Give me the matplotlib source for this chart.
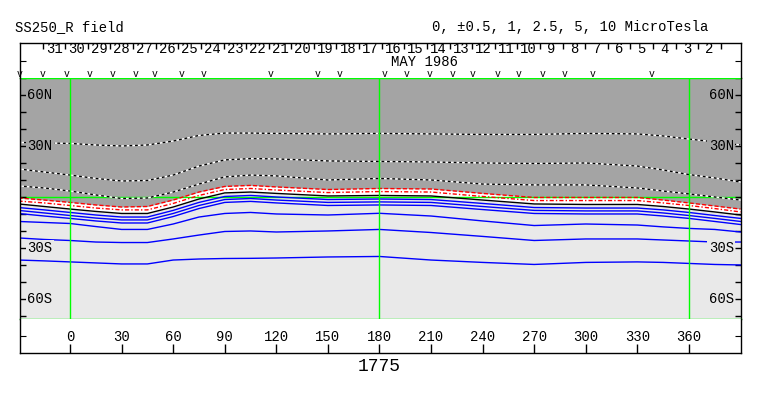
import matplotlib
matplotlib.use('Agg')
import matplotlib.pyplot as plt

plt.rcParams['font.family'] = ['Liberation Mono', 'DejaVu Sans Mono']

# longitude samples (Carrington deg) for the contour lines
lon = [-30, -15, 0, 15, 30, 45, 60, 75, 90, 105, 120, 150, 180, 210, 240, 270, 300, 330, 345, 360, 375, 390]

# negative field contours (north side), dotted black/white
lat_a = [32.1, 31.8, 31.5, 30.6, 30.0, 30.6, 32.9, 36.2, 37.6, 37.6, 37.4, 37.1, 37.4, 37.1, 36.8, 36.8, 37.4, 37.1, 35.9, 34.1, 32.4, 30.6]
lat_b = [16.5, 14.7, 12.9, 10.9, 9.4, 9.7, 12.9, 18.2, 21.8, 22.6, 22.4, 21.2, 20.9, 20.6, 20.0, 19.7, 20.0, 18.2, 15.9, 13.2, 11.2, 8.8]
lat_c = [6.5, 5.3, 3.5, 1.2, -0.9, -0.6, 2.9, 7.6, 11.8, 12.9, 12.4, 10.0, 10.9, 10.0, 7.6, 7.1, 7.1, 5.3, 3.5, 1.8, 0.0, -1.8]
# weak contours, red dashed
lat_r1 = [-0.6, -1.8, -3.2, -4.7, -5.9, -5.6, -1.8, 2.9, 6.2, 6.8, 5.9, 4.4, 5.0, 4.7, 2.1, -0.3, -0.3, -0.3, -1.8, -3.5, -5.3, -7.1]
lat_r2 = [-2.4, -3.5, -5.0, -6.5, -7.6, -7.6, -3.8, 0.9, 4.4, 5.0, 4.1, 2.6, 3.2, 2.9, 0.3, -2.1, -2.1, -2.1, -3.5, -5.0, -6.8, -8.8]
# neutral line
lat_0 = [-4.1, -5.6, -7.1, -8.5, -9.7, -9.7, -5.9, -1.2, 2.4, 2.9, 2.1, 0.6, 0.9, 0.6, -1.8, -4.1, -4.4, -4.4, -5.6, -7.1, -8.8, -10.6]
# positive field contours (south side), blue
lat_p1 = [-6.2, -7.6, -9.1, -10.6, -11.8, -11.8, -7.9, -3.2, 0.3, 0.9, 0.0, -1.5, -1.2, -1.5, -3.8, -6.2, -6.5, -6.5, -7.6, -9.1, -10.9, -12.6]
lat_p2 = [-7.9, -9.4, -10.9, -12.4, -13.5, -13.5, -9.7, -5.0, -1.5, -0.9, -1.8, -3.2, -2.9, -3.2, -5.6, -7.9, -8.2, -8.2, -9.4, -10.9, -12.6, -14.4]
lat_p3 = [-9.7, -11.2, -12.6, -14.1, -15.3, -15.3, -11.5, -6.8, -3.2, -2.6, -3.5, -5.0, -4.7, -5.0, -7.4, -9.7, -10.0, -10.0, -11.2, -12.6, -14.4, -16.2]
lat_p4 = [-14.4, -15.0, -15.6, -17.4, -19.1, -19.1, -15.9, -11.8, -9.7, -9.1, -10.0, -10.6, -9.6, -11.2, -14.1, -16.8, -15.9, -16.5, -17.6, -18.5, -19.1, -20.6]
lat_p5 = [-24.1, -25.0, -25.6, -26.5, -26.8, -26.8, -24.7, -22.4, -20.3, -20.0, -20.6, -20.0, -19.1, -20.9, -23.2, -25.6, -24.7, -24.7, -25.3, -25.9, -26.5, -26.5]
lat_p6 = [-37.1, -37.6, -38.2, -38.8, -39.4, -39.4, -37.1, -36.5, -36.2, -36.1, -35.9, -35.3, -35.0, -37.1, -38.5, -39.7, -38.5, -38.2, -38.5, -39.1, -39.7, -40.0]

# calendar along the top (day boundaries in Carrington longitude)
day_names = ['31', '30', '29', '28', '27', '26', '25', '24', '23', '22', '21', '20', '19', '18', '17',
             '16', '15', '14', '13', '12', '11', '10', '9', '8', '7', '6', '5', '4', '3', '2']
day_lon = [-15.9, -2.8, 10.4, 23.5, 36.7, 49.8, 63.0, 76.1, 89.3, 102.4, 115.6, 128.7, 141.9, 155.0, 168.2,
           181.3, 194.5, 207.6, 220.8, 233.9, 247.1, 260.2, 273.4, 286.5, 299.7, 312.8, 326.0, 339.1, 352.3, 365.4, 378.6]
# observation markers
obs_lon = [-29.1, -15.7, -1.7, 11.6, 25.0, 38.4, 49.4, 65.1, 77.9, 116.9, 144.2, 157.0, 183.2, 196.0,
           209.4, 222.8, 234.4, 248.9, 261.1, 275.1, 287.9, 304.2, 338.5]

lon_ticks = [0, 30, 60, 90, 120, 150, 180, 210, 240, 270, 300, 330, 360]
lat_ticks = [-70, -60, -50, -40, -30, -20, -10, 0, 10, 20, 30, 40, 50, 60, 70]
lat_names = {60: '60N', 30: '30N', -30: '30S', -60: '60S'}

dark = '#a4a4a4'
light = '#e9e9e9'
green = '#00ff00'

W, H = 763, 396
fig = plt.figure(figsize=(W / 100, H / 100), dpi=100)
ax = fig.add_axes([20 / W, (H - 318.5) / H, 721 / W, 241 / H])
ax_top = fig.add_axes([20 / W, (H - 77.5) / H, 721 / W, 34.5 / H])
ax_bot = fig.add_axes([20 / W, (H - 353) / H, 721 / W, 34.5 / H])

xlim = (-29.1, 390.3)

# main map
ax.set_xlim(xlim)
ax.set_ylim(-71.5, 70.3)
ax.set_facecolor(light)
ax.fill_between(lon, lat_r1, 80, color=dark, lw=0, zorder=0)
ax.fill_between(lon, lat_0, lat_r1, color='white', lw=0, zorder=0)

for la in [lat_a, lat_b, lat_c]:
    ax.plot(lon, la, color='white', lw=1, zorder=2)
    ax.plot(lon, la, color='black', lw=1, dashes=(2, 2), zorder=2)
ax.plot(lon, lat_r1, color='red', lw=1, dashes=(3, 1.5), zorder=2)
ax.plot(lon, lat_r2, color='red', lw=1, dashes=(3, 1.5, 1, 1.5), zorder=2)
ax.axhline(0, color=green, lw=1, zorder=1.5)
ax.plot(lon, lat_0, color='black', lw=1, zorder=2)
for la in [lat_p1, lat_p2, lat_p3, lat_p4, lat_p5, lat_p6]:
    ax.plot(lon, la, color='blue', lw=1, zorder=2)

for v in [0, 180, 360]:
    ax.axvline(v, color=green, lw=1, zorder=3)

ax.set_xticks([])
ax.set_yticks(lat_ticks)
ax.set_yticklabels([])
ax.tick_params(axis='y', direction='in', length=4.3, width=1, left=True, right=True)
for side in ['top', 'bottom']:
    ax.spines[side].set_color(green)
    ax.spines[side].set_linewidth(1)
for side in ['left', 'right']:
    ax.spines[side].set_linewidth(1)

for la, name in lat_names.items():
    bg = dark if la > 0 else light
    ax.text(-25.0, la, name, ha='left', va='center', fontsize=10, zorder=4,
            bbox=dict(facecolor=bg, edgecolor='none', pad=1))
    ax.text(386.2, la, name, ha='right', va='center', fontsize=10, zorder=4,
            bbox=dict(facecolor=bg, edgecolor='none', pad=1))

# top calendar strip
ax_top.set_xlim(xlim)
ax_top.set_ylim(0, 1)
ax_top.spines['bottom'].set_visible(False)
for side in ['top', 'left', 'right']:
    ax_top.spines[side].set_linewidth(1)
ax_top.set_xticks([])
ax_top.set_yticks([0.47])
ax_top.set_yticklabels([])
ax_top.tick_params(axis='y', direction='in', length=4.3, left=True, right=True)
ax_top.vlines(day_lon, 0.83, 1.0, color='black', lw=1)
for name, d in zip(day_names, day_lon):
    ax_top.text(d + 6.6, 0.83, name, ha='center', va='center', fontsize=10)
ax_top.text(186.5, 0.46, 'MAY 1986', ha='left', va='center', fontsize=10)
for o in obs_lon:
    ax_top.text(o, 0.1, 'v', ha='center', va='center', fontsize=7)

# bottom longitude strip
ax_bot.set_xlim(xlim)
ax_bot.set_ylim(0, 1)
ax_bot.spines['top'].set_visible(False)
for side in ['bottom', 'left', 'right']:
    ax_bot.spines[side].set_linewidth(1)
ax_bot.set_xticks(lon_ticks)
ax_bot.set_xticklabels([])
ax_bot.tick_params(axis='x', direction='in', length=6.5, width=1)
ax_bot.set_yticks([0.5])
ax_bot.set_yticklabels([])
ax_bot.tick_params(axis='y', direction='in', length=4.3, left=True, right=True)
for t in lon_ticks:
    ax_bot.text(t, 0.45, str(t), ha='center', va='center', fontsize=10)
ax_bot.text(180, -0.38, '1775', ha='center', va='center', fontsize=13)

fig.text(15 / W, 1 - 27 / H, 'SS250_R field', ha='left', va='center', fontsize=10)
fig.text(432 / W, 1 - 27 / H, '0, ±0.5, 1, 2.5, 5, 10 MicroTesla', ha='left', va='center', fontsize=10)

fig.savefig('out.png', dpi=100)
